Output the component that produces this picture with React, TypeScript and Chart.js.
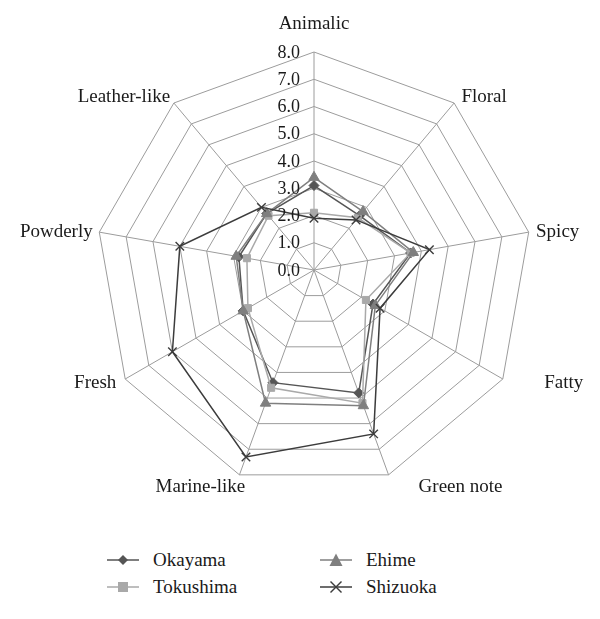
import React, { useEffect, useRef } from "react";
import { Chart, registerables } from "chart.js";

Chart.register(...registerables);

const categories = ["Animalic", "Floral", "Spicy", "Fatty", "Green note", "Marine-like", "Fresh", "Powderly", "Leather-like"];
const okayama = [3.1, 2.6, 3.6, 2.5, 4.8, 4.4, 3.0, 2.8, 2.7];
const tokushima = [2.1, 2.5, 3.6, 2.2, 5.2, 4.6, 2.8, 2.5, 2.6];
const ehime = [3.4, 2.8, 3.7, 2.6, 5.3, 5.2, 3.0, 2.9, 2.7];
const shizuoka = [1.9, 2.4, 4.3, 2.8, 6.4, 7.3, 6.0, 5.0, 3.0];
const seriesNames = ["Okayama", "Tokushima", "Ehime", "Shizuoka"];
const axisMin = 0;
const axisMax = 8;
const axisStep = 1;

const FONT = "'Liberation Serif', 'Times New Roman', serif";
const COLORS = {
  okayama: "#555555",
  tokushima: "#a9a9a9",
  ehime: "#7f7f7f",
  shizuoka: "#3c3c3c",
};
// label placement nudges (px) relative to each outer vertex, style only
const LABEL_NUDGE: [number, number][] = [
  [0, -28], [30, -6], [29, 0], [61, 4], [72, 12], [-39, 12], [-30, 4], [-43, 0], [-50, -6],
];

const labelPlugin = {
  id: "customLabels",
  afterDatasetsDraw(chart: any) {
    const s = chart.scales.r;
    const ctx = chart.ctx;
    ctx.save();
    ctx.fillStyle = "#1a1a1a";
    ctx.textBaseline = "middle";
    // tick labels, right-aligned just left of the vertical axis
    ctx.font = `18px ${FONT}`;
    ctx.textAlign = "right";
    s.ticks.forEach((t: any) => {
      const d = s.getDistanceFromCenterForValue(t.value);
      ctx.fillText(Number(t.value).toFixed(1), s.xCenter - 14, s.yCenter - d + 1);
    });
    // category labels
    ctx.font = `19px ${FONT}`;
    ctx.textAlign = "center";
    chart.data.labels.forEach((lab: string, i: number) => {
      const p = s.getPointPosition(i, s.drawingArea);
      const n = LABEL_NUDGE[i] || [0, 0];
      ctx.fillText(lab, p.x + n[0], p.y + n[1]);
    });
    ctx.restore();
  },
};

function LegendMarker({ kind, color }: { kind: string; color: string }) {
  let marker: any = null;
  if (kind === "diamond") marker = <polygon points="16,3 21,8 16,13 11,8" fill={color} />;
  if (kind === "square") marker = <rect x="11" y="3" width="10" height="10" fill={color} />;
  if (kind === "triangle") marker = <polygon points="16,1.5 22.5,14 9.5,14" fill={color} />;
  if (kind === "cross")
    marker = (
      <g stroke={color} strokeWidth="1.4">
        <line x1="10.5" y1="2.5" x2="21.5" y2="13.5" />
        <line x1="21.5" y1="2.5" x2="10.5" y2="13.5" />
      </g>
    );
  return (
    <svg width="32" height="16" style={{ display: "block" }}>
      <line x1="0" y1="8" x2="32" y2="8" stroke={color} strokeWidth="1.5" />
      {marker}
    </svg>
  );
}

export default function App() {
  const ref = useRef<HTMLCanvasElement | null>(null);

  useEffect(() => {
    if (!ref.current) return;
    const mk = (label: string, data: number[], color: string, style: string, radius: number, order: number) => ({
      label,
      data,
      borderColor: color,
      backgroundColor: color,
      pointBackgroundColor: color,
      pointBorderColor: color,
      pointStyle: style,
      pointRadius: radius,
      pointBorderWidth: style === "crossRot" ? 1.4 : 1,
      borderWidth: 1.5,
      fill: false,
      order,
    });
    const chart = new Chart(ref.current, {
      type: "radar",
      data: {
        labels: categories,
        datasets: [
          mk(seriesNames[0], okayama, COLORS.okayama, "rectRot", 5, 3),
          mk(seriesNames[1], tokushima, COLORS.tokushima, "rect", 5, 2),
          mk(seriesNames[2], ehime, COLORS.ehime, "triangle", 6, 1),
          mk(seriesNames[3], shizuoka, COLORS.shizuoka, "crossRot", 6, 0),
        ] as any,
      },
      options: {
        responsive: false,
        animation: false,
        layout: { padding: { top: 44, left: 88, right: 60, bottom: 20 } },
        elements: { line: { tension: 0 } },
        scales: {
          r: {
            min: axisMin,
            max: axisMax,
            beginAtZero: true,
            ticks: { stepSize: axisStep, display: false },
            grid: { color: "#9c9c9c", lineWidth: 1, circular: false },
            angleLines: { color: "#9c9c9c", lineWidth: 1 },
            pointLabels: { display: false },
          },
        },
        plugins: { legend: { display: false }, tooltip: { enabled: false } },
      } as any,
      plugins: [labelPlugin],
    });
    return () => chart.destroy();
  }, []);

  const legendItems = [
    { name: seriesNames[0], kind: "diamond", color: COLORS.okayama, left: 99, top: 543 },
    { name: seriesNames[1], kind: "square", color: COLORS.tokushima, left: 99, top: 570 },
    { name: seriesNames[2], kind: "triangle", color: COLORS.ehime, left: 312, top: 543 },
    { name: seriesNames[3], kind: "cross", color: COLORS.shizuoka, left: 312, top: 570 },
  ];

  return (
    <div style={{ position: "relative", width: 584, height: 603 }}>
      <canvas ref={ref} width={584} height={500} style={{ display: "block" }} />
      {legendItems.map((it) => (
        <div
          key={it.name}
          style={{
            position: "absolute",
            left: it.left,
            top: it.top,
            display: "flex",
            alignItems: "center",
            fontFamily: FONT,
            fontSize: 19,
            color: "#1a1a1a",
            height: 18,
          }}
        >
          <LegendMarker kind={it.kind} color={it.color} />
          <span style={{ marginLeft: 14 }}>{it.name}</span>
        </div>
      ))}
    </div>
  );
}
